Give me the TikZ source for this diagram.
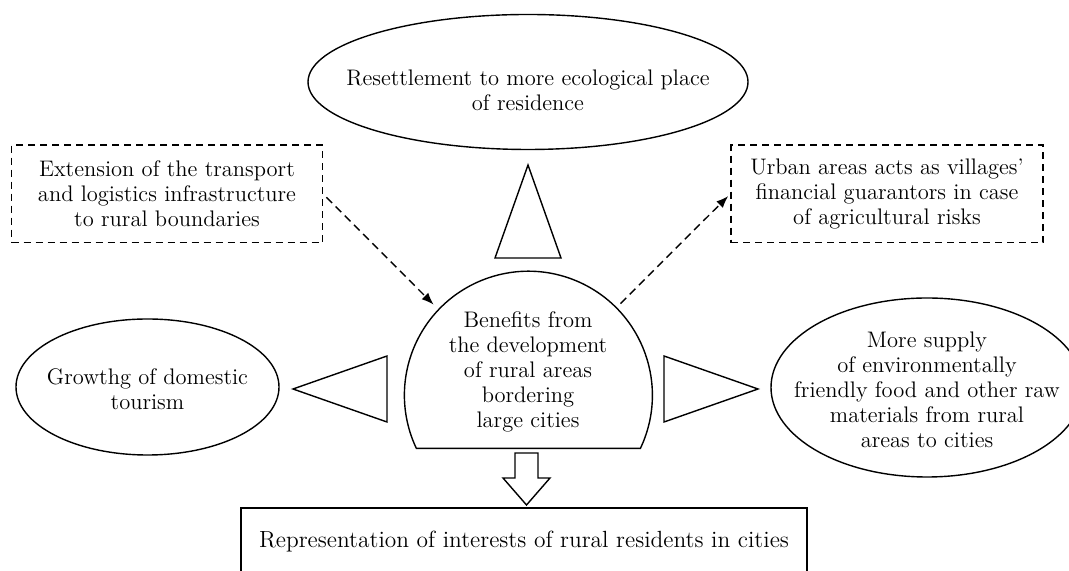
\documentclass[tikz,border=0pt]{standalone}
\usepackage{fontspec}
\usetikzlibrary{arrows.meta}

\begin{document}
\begin{tikzpicture}[x=0.5pt, y=0.5pt, line width=0.7pt,
    every node/.style = {font=\fontsize{11.25}{12.5}\selectfont, align=center},
    dashbox/.style = {draw, dash pattern=on 3.5pt off 2.5pt,
      minimum width=155.5pt, minimum height=48.8pt, inner sep=0pt},
    link/.style = {dash pattern=on 4pt off 2.5pt, -{Latex[length=6pt, width=4.6pt]}},
    wedge/.style = {draw, line join=miter}]
  \useasboundingbox (0,0) rectangle (1069,571);

  % ovals round the outer benefits
  \draw (528,489) ellipse [x radius=110pt, y radius=33.75pt];
  \node (resettle) at (528,481) {Resettlement to more ecological place\\of residence};
  \draw (147.5,184) ellipse [x radius=65.75pt, y radius=34pt];
  \node (tourism) at (147.5,182) {Growthg of domestic\\tourism};
  \draw (927,183.5) ellipse [x radius=78pt, y radius=44.75pt];
  \node (supply) at (927,181.5) {More supply\\of environmentally\\friendly food and other raw\\materials from rural\\areas to cities};

  % dashed side boxes
  \node[dashbox] (transport) at (167,377) {Extension of the transport\\and logistics infrastructure\\to rural boundaries};
  \node[dashbox, minimum width=156pt] (guarantor) at (887,377) {Urban areas acts as villages'\\financial guarantors in case\\of agricultural risks};

  % central dome
  \node[circle, minimum size=124pt, inner sep=0pt, outer sep=0pt] (dome) at (528,175) {};
  \draw (dome.-25.4) arc[start angle=-25.4, end angle=205.4, radius=62pt] -- cycle;
  \node (core) at (528,199) {Benefits from\\the development\\of rural areas\\bordering\\large cities};

  % bottom box, cut by the page edge
  \node[draw, minimum width=283pt, minimum height=33.5pt,
    font=\fontsize{11.7}{12.5}\selectfont]
    (voice) at (524,29.5) {Representation of interests of rural residents in cities};

  % hollow pointers
  \draw[wedge] (528,406) -- (561,313) -- (495,313) -- cycle;
  \draw[wedge] (293,182) -- (387,215) -- (387,149) -- cycle;
  \draw[wedge] (758,182) -- (664,215) -- (664,149) -- cycle;
  \draw[wedge] (515,118) -- (538,118) -- (538,93) -- (550,93) -- (526.5,66)
    -- (503,93) -- (515,93) -- cycle;

  \draw[link, shorten <=2.3pt, shorten >=3.7pt] (transport.east) -- (dome.136);
  \draw[link, shorten <=3.4pt, shorten >=1.5pt] (dome.45) -- (guarantor.west);
\end{tikzpicture}
\end{document}
